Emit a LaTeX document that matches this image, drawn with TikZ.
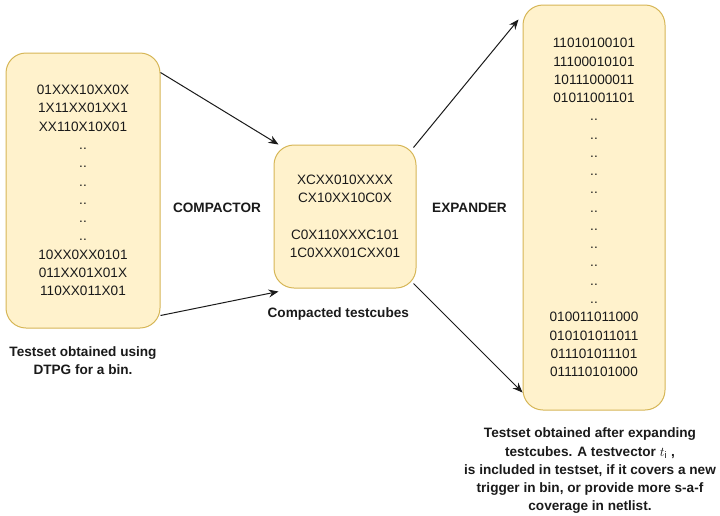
\documentclass[tikz,border=0pt]{standalone}
\usepackage{fontspec}
\setmainfont{Liberation Sans}
\usetikzlibrary{arrows.meta, positioning, calc}

\definecolor{cubefill}{HTML}{FFF2CC}
\definecolor{cubeline}{HTML}{D6B656}
\definecolor{ink}{HTML}{1A1A1A}

\begin{document}
\begin{tikzpicture}[->,>={Stealth[length=7.5pt,width=6pt,inset=2.5pt]},
                    x=0.75pt,y=-0.75pt,line width=0.75pt,draw=ink,text=ink,
                    font=\fontsize{10.2}{13.7}\selectfont]
  \tikzset{cube/.style={draw=cubeline,fill=cubefill,rounded corners=15pt,
                        align=center,minimum width=106.5pt},
           tag/.style={font=\fontsize{10.2}{13.7}\selectfont\bfseries,
                       align=center,inner sep=0pt}}
  \useasboundingbox (0,0) rectangle (720,515);

  \node[cube,minimum width=115.5pt,minimum height=206.25pt] (L) at (83,190.5)
    {01XXX10XX0X\\1X11XX01XX1\\XX110X10X01\\..\\..\\..\\..\\..\\..\\
     10XX0XX0101\\011XX01X01X\\110XX011X01};
  \node[cube,minimum height=107.25pt] (M) [right=84.75pt of L,yshift=-19.5pt]
    {XCXX010XXXX\\CX10XX10C0X\\[13.7pt]C0X110XXXC101\\1C0XXX01CXX01};
  \node[cube,minimum height=303.75pt] (R) [right=79.5pt of M,yshift=6.75pt]
    {11010100101\\11100010101\\10111000011\\01011001101\\
     ..\\..\\..\\..\\..\\..\\..\\..\\..\\..\\..\\
     010011011000\\010101011011\\011101011101\\011110101000};

  \node[tag] (Lcap) [below=13pt of L]
    {Testset obtained using\\DTPG for a bin.};
  \node[tag] (Mcap) [below=14pt of M,xshift=-5pt] {Compacted testcubes};
  \node[tag] (Rcap) [below=12.75pt of R,xshift=-3pt]
    {Testset obtained after expanding\\
     testcubes. A testvector $t_{\mathrm{i}}$ ,\\
     is included in testset, if it covers a new\\
     trigger in bin, or provide more s-a-f\\
     coverage in netlist.};

  \node[tag] (comp) at ($(L.east)!0.5!(M.west)+(0,4)$) {COMPACTOR};
  \node[tag] (expd) at ($(M.east)!0.5!(R.west)+(0,-4)$) {EXPANDER};

  \draw ([yshift=-15pt]L.north east) -- ([xshift=3.75pt]M.north west);
  \draw ([yshift=9.75pt]L.south east) -- ([xshift=3.75pt,yshift=-2.25pt]M.south west);
  \draw ([xshift=-2.25pt,yshift=-2.25pt]M.north east) -- ([xshift=-3pt,yshift=-11.25pt]R.north west);
  \draw ([xshift=-2.25pt,yshift=3.75pt]M.south east) -- ([yshift=13.5pt]R.south west);
\end{tikzpicture}
\end{document}
